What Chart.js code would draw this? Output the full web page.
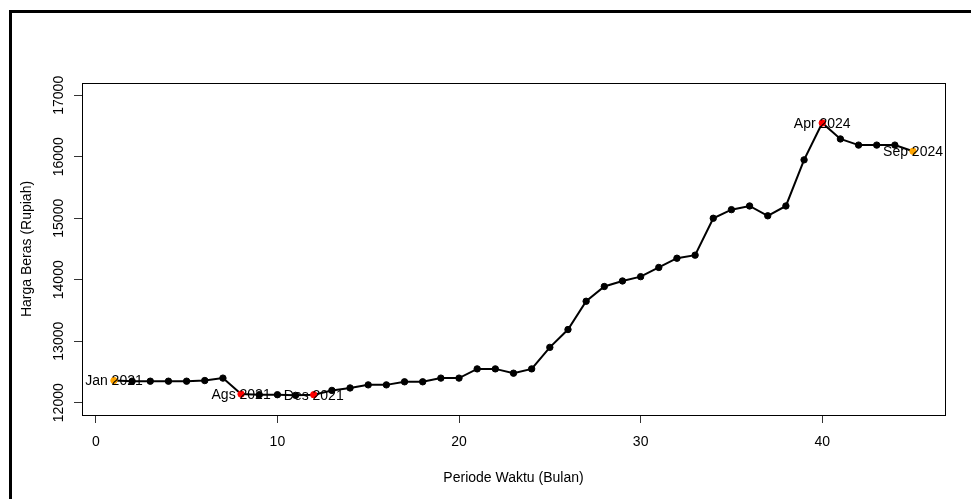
<!DOCTYPE html>
<html lang="id">
<head>
<meta charset="UTF-8">
<title>Harga Beras</title>
<script src="https://cdn.jsdelivr.net/npm/chart.js"></script>
<style>
  html, body { margin: 0; padding: 0; background: #fff; overflow: hidden; }
  canvas { position: absolute; left: 0; top: 0; }
  .bingkai {
    position: absolute; left: 9px; top: 10px; width: 2000px; height: 1000px;
    border-left: 3px solid #000; border-top: 3px solid #000;
  }
</style>
</head>
<body>
<canvas id="grafik" width="971" height="499"></canvas>
<div class="bingkai"></div>
<script>
const periode = [1, 2, 3, 4, 5, 6, 7, 8, 9, 10, 11, 12, 13, 14, 15, 16, 17, 18, 19, 20, 21, 22, 23,
  24, 25, 26, 27, 28, 29, 30, 31, 32, 33, 34, 35, 36, 37, 38, 39, 40, 41, 42, 43, 44, 45];
const harga = [12360, 12350, 12350, 12350, 12350, 12360, 12400, 12140, 12130, 12130, 12120, 12130,
  12200, 12240, 12290, 12290, 12340, 12340, 12400, 12400, 12550, 12550, 12480, 12550, 12900, 13190,
  13650, 13890, 13980, 14050, 14200, 14350, 14400, 15000, 15140, 15200, 15040, 15200, 15950, 16550,
  16290, 16190, 16190, 16190, 16090];
const tickX = [0, 10, 20, 30, 40];
const tickY = [12000, 13000, 14000, 15000, 16000, 17000];

// titik yang diberi keterangan
const titikLabel = [1, 8, 12, 40, 45];
const teksLabel = ['Jan 2021', 'Ags 2021', 'Des 2021', 'Apr 2024', 'Sep 2024'];
const warnaLabel = ['orange', 'red', 'red', 'red', 'orange'];

const warnaTitik = periode.map(p => {
  const i = titikLabel.indexOf(p);
  return i >= 0 ? warnaLabel[i] : '#000';
});

const fontR = '"Liberation Sans", Arial, sans-serif';
Chart.defaults.font.family = fontR;
Chart.defaults.font.size = 14;
Chart.defaults.color = '#000';

const kotakDanLabel = {
  id: 'kotakDanLabel',
  afterDatasetsDraw(chart) {
    const ctx = chart.ctx;
    const a = chart.chartArea;
    ctx.save();
    ctx.strokeStyle = '#000';
    ctx.lineWidth = 1;
    ctx.strokeRect(a.left + 0.5, a.top + 0.5, a.right - a.left, a.bottom - a.top);

    const meta = chart.getDatasetMeta(0);
    ctx.font = '14px ' + fontR;
    ctx.fillStyle = '#000';
    ctx.textAlign = 'center';
    ctx.textBaseline = 'middle';
    titikLabel.forEach((p, i) => {
      const el = meta.data[periode.indexOf(p)];
      ctx.fillText(teksLabel[i], el.x, el.y + 1);
    });
    ctx.restore();
  }
};

new Chart(document.getElementById('grafik'), {
  type: 'line',
  data: {
    datasets: [{
      data: periode.map((p, i) => ({ x: p, y: harga[i] })),
      borderColor: '#000',
      borderWidth: 2,
      tension: 0,
      pointRadius: 3.2,
      pointBackgroundColor: warnaTitik,
      pointBorderColor: warnaTitik,
      pointBorderWidth: 1
    }]
  },
  options: {
    responsive: false,
    animation: false,
    layout: { padding: { left: 0, top: 83, right: 26, bottom: 0 } },
    plugins: { legend: { display: false }, tooltip: { enabled: false } },
    scales: {
      x: {
        type: 'linear',
        min: -0.76,
        max: 46.76,
        afterBuildTicks: ax => { ax.ticks = tickX.map(v => ({ value: v })); },
        afterFit: ax => { ax.height = 84; },
        grid: { drawOnChartArea: false, tickLength: 8, color: '#333' },
        border: { display: false },
        ticks: { padding: 11, maxRotation: 0, autoSkip: false, callback: v => String(v) },
        title: { display: true, text: 'Periode Waktu (Bulan)', padding: { top: 0, bottom: 12 } }
      },
      y: {
        min: 11800,
        max: 17200,
        afterBuildTicks: ax => { ax.ticks = tickY.map(v => ({ value: v })); },
        afterFit: ax => { ax.width = 82; },
        grid: { drawOnChartArea: false, tickLength: 8, color: '#333' },
        border: { display: false },
        ticks: { minRotation: 90, maxRotation: 90, crossAlign: 'center', padding: -5, autoSkip: false, callback: v => String(v) },
        title: { display: true, text: 'Harga Beras (Rupiah)', padding: { top: 19, bottom: 0 } }
      }
    }
  },
  plugins: [kotakDanLabel]
});
</script>
</body>
</html>
